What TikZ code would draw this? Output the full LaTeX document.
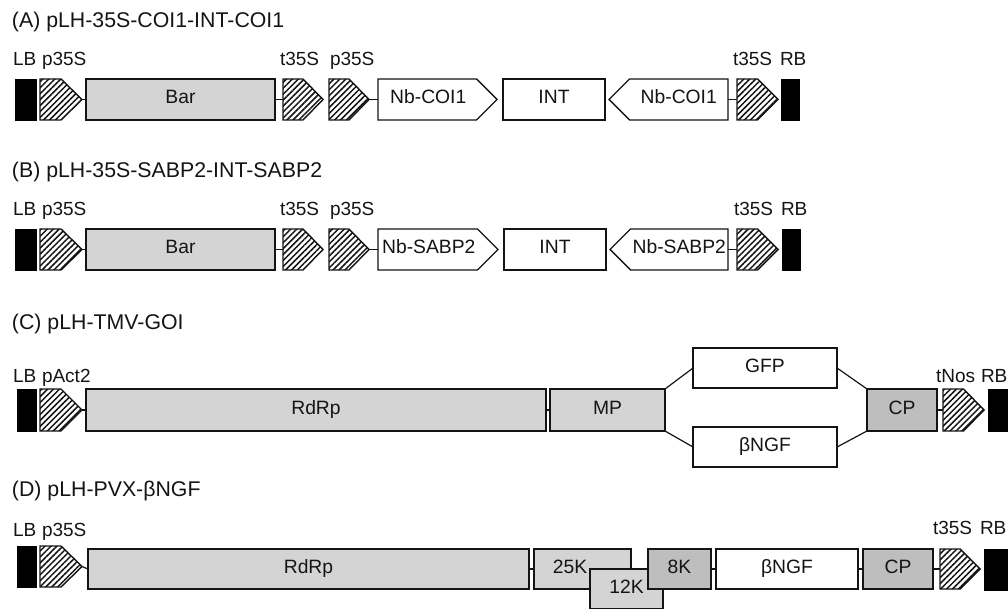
\documentclass[tikz,border=0pt]{standalone}
\usepackage{fontspec}
\setmainfont{Liberation Sans}
\usetikzlibrary{patterns.meta}
\definecolor{lg}{RGB}{212,212,212}
\definecolor{dg}{RGB}{190,190,190}
\definecolor{ink}{RGB}{20,20,20}
% rectangular gene box: style, name, x1, x2, y1, y2, text
\newcommand{\gb}[7]{\node[#1, minimum width={(#4-#3)*1pt}, minimum height={(#6-#5)*1pt}] (#2) at ({(#3+#4)/2},{(#5+#6)/2}) {#7};}
% invisible box for naming a drawn shape: name, x1, x2, y1, y2
\newcommand{\nb}[5]{\node[anchorbox, minimum width={(#3-#2)*1pt}, minimum height={(#5-#4)*1pt}] (#1) at ({(#2+#3)/2},{(#4+#5)/2}) {};}
% hatched pentagon pointing east: name, x1, x2, y1, y2
\newcommand{\hs}[5]{\nb{#1}{#2}{#3}{#4}{#5}%
  \path[hatchfill] (#2,#4) -- ({(#2+#3)/2},#4) -- (#3,{(#4+#5)/2}) -- ({(#2+#3)/2},#5) -- (#2,#5) -- cycle;}
% white arrow box pointing east: name, x1, x2, y1, y2, text
\newcommand{\fw}[6]{\nb{#1}{#2}{#3}{#4}{#5}%
  \path[arrowfill] (#2,#4) -- ({#3-(#5-#4)/2},#4) -- (#3,{(#4+#5)/2}) -- ({#3-(#5-#4)/2},#5) -- (#2,#5) -- cycle;
  \node[txt] (#1t) at ({(#2+#3-(#5-#4)/2)/2+1},{(#4+#5)/2}) {#6};}
% white arrow box pointing west: name, x1, x2, y1, y2, text
\newcommand{\rv}[6]{\nb{#1}{#2}{#3}{#4}{#5}%
  \path[arrowfill] (#3,#4) -- ({#2+(#5-#4)/2},#4) -- (#2,{(#4+#5)/2}) -- ({#2+(#5-#4)/2},#5) -- (#3,#5) -- cycle;
  \node[txt] (#1t) at ({(#2+#3+(#5-#4)/2)/2},{(#4+#5)/2}) {#6};}
\begin{document}
\begin{tikzpicture}[x=1pt,y=-1pt,
  every node/.style={inner sep=0pt, outer sep=0pt},
  lab/.style={font=\fontsize{19}{22}\selectfont, text=ink, anchor=base west},
  ttl/.style={font=\fontsize{21.3}{25}\selectfont, text=ink, anchor=base west},
  txt/.style={font=\fontsize{19.3}{22}\selectfont, text=ink, text height=13.6pt, text depth=5pt},
  gene/.style={draw=ink, line width=1.4pt, txt},
  light/.style={gene, fill=lg},
  dark/.style={gene, fill=dg},
  plain/.style={gene, fill=white},
  border/.style={fill=black, draw=black, line width=0.4pt},
  anchorbox/.style={draw=none, fill=none},
  hatchfill/.style={draw=ink, line width=1.4pt, fill=white,
    postaction={pattern={Lines[angle=45,distance=4.2pt,line width=1.5pt]}, pattern color=ink}},
  arrowfill/.style={draw=ink, line width=1.4pt, fill=white},
  link/.style={draw=ink, line width=1.2pt}]
\useasboundingbox (0,0) rectangle (1008,609);

% ---------- (A) ----------
\node[ttl] (tA) at (12,28) {(A) pLH-35S-COI1-INT-COI1};
\node[lab] (aLBt) at (13,66) {LB};
\node[lab] (aP1t) at (42,66) {p35S};
\node[lab] (aT1t) at (280,66) {t35S};
\node[lab] (aP2t) at (330,66) {p35S};
\node[lab] (aT2t) at (733,66) {t35S};
\node[lab] (aRBt) at (780,66) {RB};
\gb{border}{aLB}{15}{36}{79}{120}{}
\hs{aP1}{40}{82}{79}{120}
\gb{light}{aBar}{86}{275}{79}{120}{Bar}
\hs{aT1}{283}{323}{79}{120}
\hs{aP2}{329}{369}{79}{120}
\fw{aN1}{378}{497}{79}{120}{Nb-COI1}
\gb{plain}{aINT}{503}{605}{79}{120}{INT}
\rv{aN2}{609}{728}{79}{120}{Nb-COI1}
\hs{aT2}{737}{778}{79}{120}
\gb{border}{aRB}{781}{799}{79}{120}{}
\draw[link] (aP1.east) -- (aBar.west);
\draw[link] (aBar.east) -- (aT1.west);
\draw[link] (aP2.east) -- (aN1.west);
\draw[link] (aN2.east) -- (aT2.west);

% ---------- (B) ----------
\node[ttl] (tB) at (12,178) {(B) pLH-35S-SABP2-INT-SABP2};
\node[lab] (bLBt) at (13,216) {LB};
\node[lab] (bP1t) at (42,216) {p35S};
\node[lab] (bT1t) at (280,216) {t35S};
\node[lab] (bP2t) at (330,216) {p35S};
\node[lab] (bT2t) at (734,216) {t35S};
\node[lab] (bRBt) at (781,216) {RB};
\gb{border}{bLB}{15}{36}{229}{270}{}
\hs{bP1}{40}{82}{229}{270}
\gb{light}{bBar}{86}{275}{229}{270}{Bar}
\hs{bT1}{283}{323}{229}{270}
\hs{bP2}{329}{369}{229}{270}
\fw{bN1}{378}{498}{229}{270}{Nb-SABP2}
\gb{plain}{bINT}{504}{606}{229}{270}{INT}
\rv{bN2}{610}{728}{229}{270}{Nb-SABP2}
\hs{bT2}{737}{778}{229}{270}
\gb{border}{bRB}{782}{800}{229}{270}{}
\draw[link] (bP1.east) -- (bBar.west);
\draw[link] (bBar.east) -- (bT1.west);
\draw[link] (bP2.east) -- (bN1.west);
\draw[link] (bN2.east) -- (bT2.west);

% ---------- (C) ----------
\node[ttl] (tC) at (12,329) {(C) pLH-TMV-GOI};
\node[lab] (cLBt) at (13,382) {LB};
\node[lab] (cPt) at (42,382) {pAct2};
\node[lab] (cTt) at (936,382) {tNos};
\node[lab] (cRBt) at (981,382) {RB};
\gb{border}{cLB}{17}{36}{389}{431}{}
\hs{cP}{40}{82}{389}{431}
\gb{light}{cRdRp}{86}{546}{389}{431}{RdRp}
\gb{light}{cMP}{550}{665}{389}{431}{MP}
\gb{plain}{cGFP}{693}{837}{348}{388}{GFP}
\gb{plain}{cNGF}{693}{837}{427}{467}{βNGF}
\gb{dark}{cCP}{867}{937}{389}{431}{CP}
\hs{cT}{943}{984}{389}{431}
\gb{border}{cRB}{988}{1007}{389}{431}{}
\draw[link] (cP.east) -- (cRdRp.west);
\draw[link] (cRdRp.east) -- (cMP.west);
\draw[link] (cMP.north east) -- (cGFP.west);
\draw[link] (cMP.south east) -- (cNGF.west);
\draw[link] (cGFP.east) -- (cCP.north west);
\draw[link] (cNGF.east) -- (cCP.south west);
\draw[link] (cCP.east) -- (cT.west);

% ---------- (D) ----------
\node[ttl] (tD) at (12,496) {(D) pLH-PVX-βNGF};
\node[lab] (dLBt) at (13,536) {LB};
\node[lab] (dPt) at (42,536) {p35S};
\node[lab] (dTt) at (933,534) {t35S};
\node[lab] (dRBt) at (980,534) {RB};
\gb{border}{dLB}{17}{36}{546}{587}{}
\hs{dP}{40}{82}{546}{587}
\gb{light}{dRdRp}{88}{529}{549}{589}{RdRp}
\gb{light}{d25K}{534}{631}{549}{589}{}
\node[txt] (d25Kt) at (570,569) {25K};
\gb{light}{d12K}{590}{663}{569}{609}{12K}
\gb{dark}{d8K}{648}{711}{549}{589}{8K}
\gb{plain}{dNGF}{716}{858}{549}{589}{βNGF}
\gb{dark}{dCP}{863}{933}{549}{589}{CP}
\hs{dT}{940}{980}{549}{589}
\gb{border}{dRB}{984}{1012}{549}{590}{}
\draw[link] (dP.east) -- (dRdRp.west);
\draw[link] (dRdRp.east) -- (d25K.west);
\draw[link] (d8K.east) -- (dNGF.west);
\draw[link] (dNGF.east) -- (dCP.west);
\draw[link] (dCP.east) -- (dT.west);
\end{tikzpicture}
\end{document}
